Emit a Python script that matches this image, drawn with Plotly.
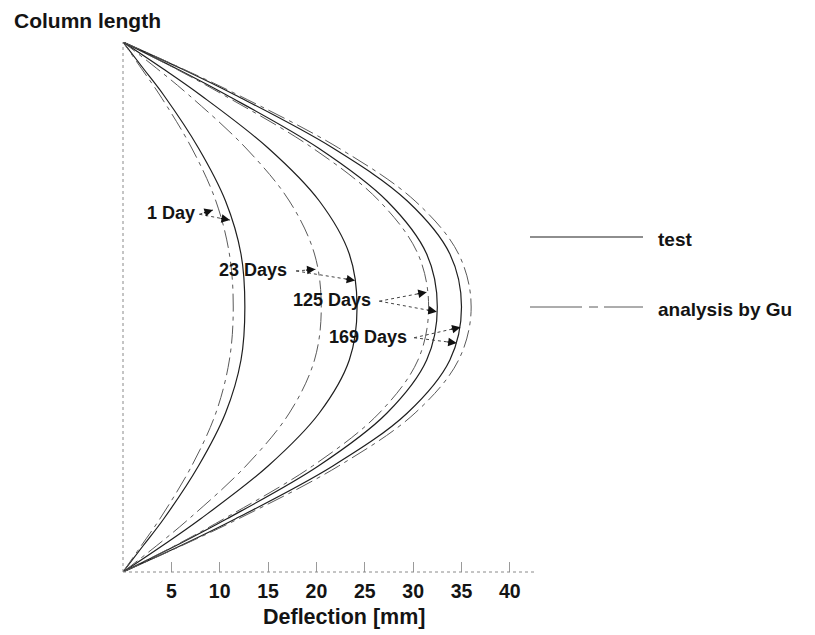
import math
import plotly.graph_objects as go

# ---------------- data ----------------
# relative position along the column (0 = bottom support, 1 = top support)
positions = [0, 0.05, 0.1, 0.2, 0.3, 0.4, 0.5, 0.6, 0.7, 0.8, 0.9, 0.95, 1.0]

# deflection in mm
test_1d = [0, 2.1, 4.2, 7.8, 10.6, 12.2, 12.6, 12.2, 10.6, 7.8, 4.2, 2.1, 0]
gu_1d = [0, 1.9, 3.8, 7.1, 9.6, 11.0, 11.4, 11.0, 9.6, 7.1, 3.8, 1.9, 0]
test_23d = [0, 4.1, 8.0, 15.0, 20.3, 23.4, 24.2, 23.4, 20.3, 15.0, 8.0, 4.1, 0]
gu_23d = [0, 3.5, 6.8, 12.7, 17.2, 19.8, 20.5, 19.8, 17.2, 12.7, 6.8, 3.5, 0]
test_125d = [0, 5.5, 10.7, 20.2, 27.3, 31.4, 32.5, 31.4, 27.3, 20.2, 10.7, 5.5, 0]
gu_125d = [0, 5.4, 10.4, 19.6, 26.5, 30.5, 31.6, 30.5, 26.5, 19.6, 10.4, 5.4, 0]
test_169d = [0, 6.0, 11.6, 21.7, 29.4, 33.8, 35.0, 33.8, 29.4, 21.7, 11.6, 6.0, 0]
gu_169d = [0, 6.1, 11.9, 22.3, 30.2, 34.7, 36.0, 34.7, 30.2, 22.3, 11.9, 6.1, 0]

x_ticks = [5, 10, 15, 20, 25, 30, 35, 40]

# curve labels: text, right edge of text (x, y), arrow tail, arrow tips
label_text = ["1 Day", "23 Days", "125 Days", "169 Days"]
label_x = [7.7, 17.15, 25.9, 29.55]
label_y = [0.677, 0.570, 0.513, 0.443]
tail_x = [7.9, 17.9, 26.5, 30.1]
tail_y = [0.675, 0.568, 0.511, 0.442]
tip1_x = [9.3, 19.9, 31.4, 34.9]
tip1_y = [0.683, 0.571, 0.528, 0.462]
tip2_x = [11.05, 24.0, 32.45, 34.5]
tip2_y = [0.664, 0.550, 0.491, 0.432]

# ---------------- layout constants ----------------
BODY = 8                      # default page margin around the figure
W, H = 815 - BODY, 635 - BODY
PLOT_L, PLOT_R, PLOT_T, PLOT_B = 123, 535, 42, 572   # page pixels
ML, MT = PLOT_L - BODY, PLOT_T - BODY
MR = W - ML - (PLOT_R - PLOT_L)
MB = H - MT - (PLOT_B - PLOT_T)
XMAX = 42.6
PW = PLOT_R - PLOT_L
PH = PLOT_B - PLOT_T
px_x = PW / XMAX
px_y = PH / 1.0


def px2paper(px, py):
    return (px - PLOT_L) / PW, (PLOT_B - py) / PH


FONT = "Liberation Sans, Arial, Helvetica, sans-serif"
TXT = "#141414"
TEST_STYLE = dict(color="#1e1e1e", width=1.2)
GU_STYLE = dict(color="#5a5a5a", width=1.0, dash="18px,5px,4px,5px")


def font(size):
    return dict(family=FONT, size=size, color=TXT, weight="bold")


fig = go.Figure()

series = [
    (test_1d, TEST_STYLE), (gu_1d, GU_STYLE),
    (test_23d, TEST_STYLE), (gu_23d, GU_STYLE),
    (test_125d, TEST_STYLE), (gu_125d, GU_STYLE),
    (test_169d, TEST_STYLE), (gu_169d, GU_STYLE),
]
for xs, style in series:
    fig.add_trace(go.Scatter(
        x=xs, y=positions, mode="lines",
        line=dict(shape="spline", smoothing=1.0, **style),
        showlegend=False, hoverinfo="skip",
    ))

annotations = []
for i, t in enumerate(label_text):
    annotations.append(dict(
        x=label_x[i], y=label_y[i], xref="x", yref="y", text=t,
        showarrow=False, xanchor="right", yanchor="middle", font=font(18),
    ))
    for tx, ty in ((tip1_x[i], tip1_y[i]), (tip2_x[i], tip2_y[i])):
        # dotted shaft
        fig.add_trace(go.Scatter(
            x=[tail_x[i], tx], y=[tail_y[i], ty], mode="lines",
            line=dict(color="#444", width=1, dash="dot"),
            showlegend=False, hoverinfo="skip",
        ))
        # filled head
        dx = (tx - tail_x[i]) * px_x
        dy = -(ty - tail_y[i]) * px_y
        ln = math.hypot(dx, dy)
        annotations.append(dict(
            x=tx, y=ty, xref="x", yref="y", text="", showarrow=True,
            ax=-dx / ln * 11, ay=-dy / ln * 11, axref="pixel", ayref="pixel",
            arrowhead=2, arrowsize=1.3, arrowwidth=1.3, arrowcolor="#111",
        ))

# axis titles
tx_, ty_ = px2paper(344, 617)
annotations.append(dict(
    x=tx_, y=ty_, xref="paper", yref="paper", text="Deflection [mm]",
    showarrow=False, xanchor="center", yanchor="middle", font=font(21.5),
))
tx_, ty_ = px2paper(12, 20)
annotations.append(dict(
    x=tx_, y=ty_, xref="paper", yref="paper", text="Column length",
    showarrow=False, xanchor="left", yanchor="middle", font=font(21),
))

# custom legend
legend_items = [
    ("test", TEST_STYLE, 237),
    ("analysis by Gu", dict(color="#5a5a5a", width=1.0, dash="52px,7px,9px,6px"), 307),
]
shapes = []
for name, style, ypx in legend_items:
    x0, yp = px2paper(530, ypx)
    x1, _ = px2paper(643, ypx)
    shapes.append(dict(type="line", xref="paper", yref="paper",
                       x0=x0, x1=x1, y0=yp, y1=yp, line=style))
    xt, yt = px2paper(656, ypx + 2)
    annotations.append(dict(
        x=xt, y=yt, xref="paper", yref="paper", text=name, showarrow=False,
        xanchor="left", yanchor="middle", font=font(19),
    ))

# dotted axis lines
shapes.append(dict(type="line", xref="paper", yref="paper", x0=0, x1=1, y0=0, y1=0,
                   line=dict(color="#8a8a8a", width=1, dash="dot")))
shapes.append(dict(type="line", xref="paper", yref="paper", x0=0, x1=0, y0=0, y1=1,
                   line=dict(color="#8a8a8a", width=1, dash="dot")))

fig.update_layout(
    width=W, height=H,
    margin=dict(l=ML, r=MR, t=MT, b=MB),
    paper_bgcolor="white", plot_bgcolor="white",
    showlegend=False,
    annotations=annotations, shapes=shapes,
    xaxis=dict(range=[0, XMAX], tickvals=x_ticks, ticks="inside", ticklen=10,
               tickcolor="#9a9a9a", tickwidth=1, showgrid=False, zeroline=False,
               showline=False, ticklabelstandoff=5, tickfont=font(19.5)),
    yaxis=dict(range=[0, 1], showticklabels=False, ticks="", showgrid=False,
               zeroline=False, showline=False),
)

fig.write_html("out.html")
